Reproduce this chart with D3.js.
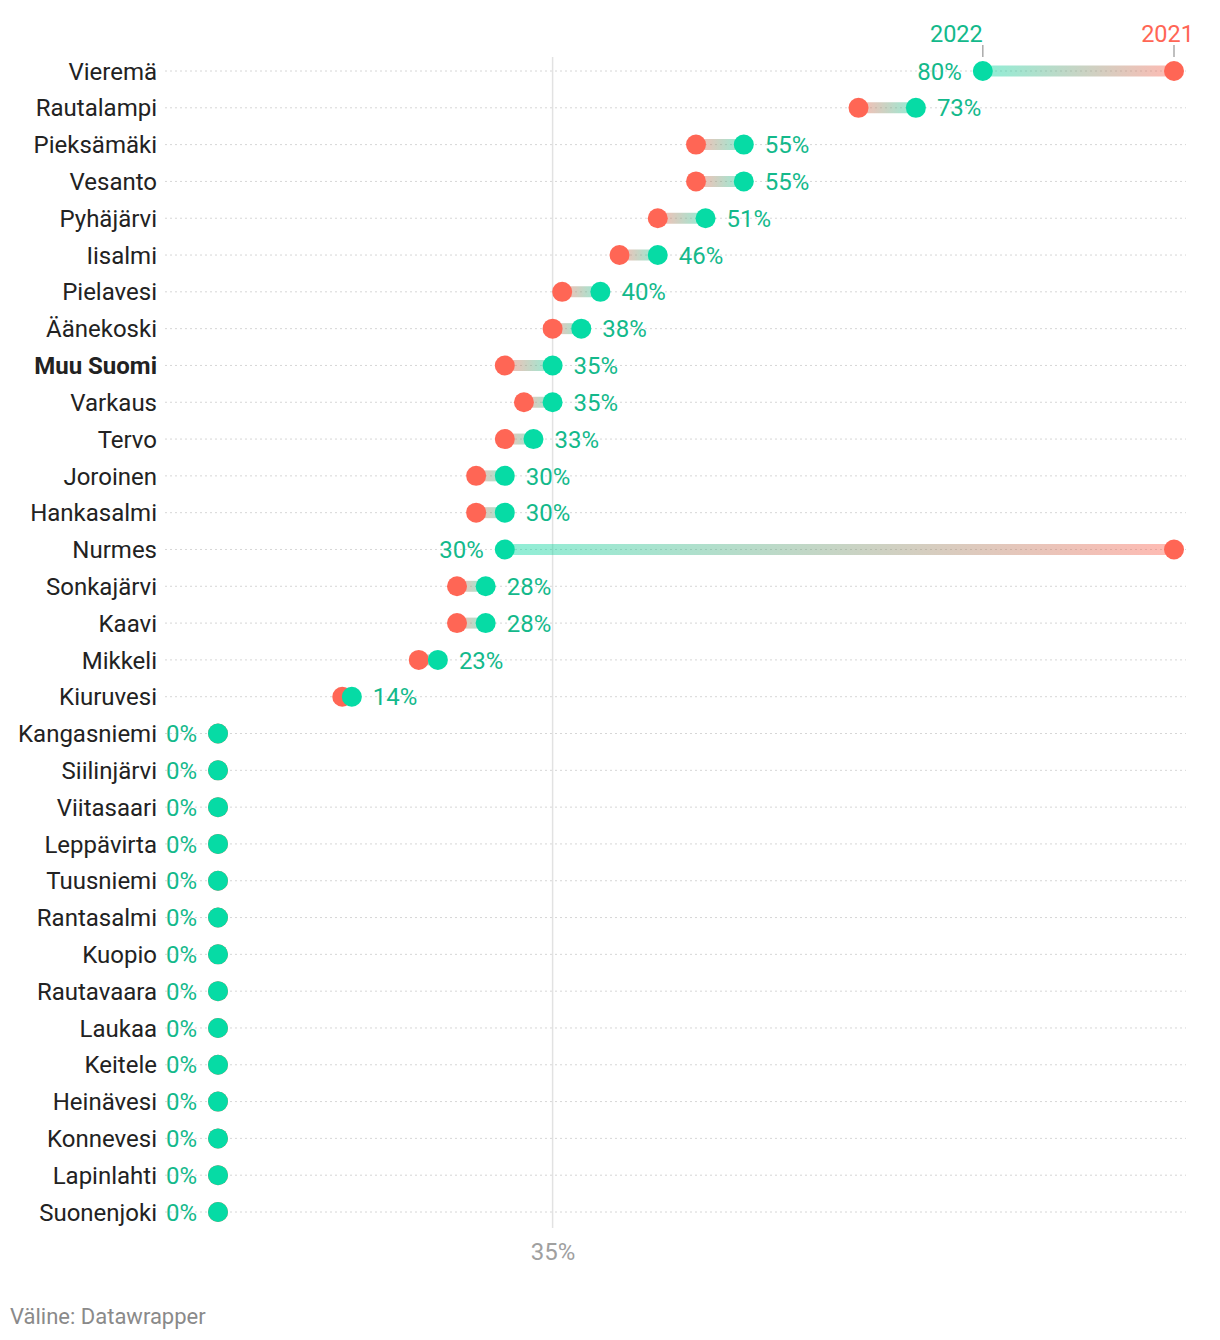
<!DOCTYPE html>
<html><head><meta charset="utf-8">
<script src="https://cdn.jsdelivr.net/npm/d3@7"></script>
<style>
body{margin:0;background:#fff;font-family:Roboto,"Noto Sans",sans-serif;}
</style></head>
<body>
<svg id="chart" width="1220" height="1340"></svg>
<script>
const categories = ["Vieremä","Rautalampi","Pieksämäki","Vesanto","Pyhäjärvi","Iisalmi","Pielavesi","Äänekoski","Muu Suomi","Varkaus","Tervo","Joroinen","Hankasalmi","Nurmes","Sonkajärvi","Kaavi","Mikkeli","Kiuruvesi","Kangasniemi","Siilinjärvi","Viitasaari","Leppävirta","Tuusniemi","Rantasalmi","Kuopio","Rautavaara","Laukaa","Keitele","Heinävesi","Konnevesi","Lapinlahti","Suonenjoki"];
const values2021 = [100,67,50,50,46,42,36,35,30,32,30,27,27,100,25,25,21,13,0,0,0,0,0,0,0,0,0,0,0,0,0,0];
const values2022 = [80,73,55,55,51,46,40,38,35,35,33,30,30,30,28,28,23,14,0,0,0,0,0,0,0,0,0,0,0,0,0,0];
const boldCategories = ["Muu Suomi"];
const xTicks = [35];
const seriesNames = ["2021","2022"];

const c2021 = "#ff6655", c2022 = "#06dba5", t2022 = "#13b98b", t2021 = "#ff6655";
const svg = d3.select("#chart");
const x = d3.scaleLinear().domain([0,100]).range([218,1174]);
const y = d3.scalePoint().domain(categories).range([71,1212]);

// grid lines
svg.append("g").selectAll("line").data(categories).join("line")
  .attr("x1",165).attr("x2",1186).attr("y1",d=>y(d)).attr("y2",d=>y(d))
  .attr("stroke","#d6d6d6").attr("stroke-width",1).attr("stroke-dasharray","2,3");

// x axis tick line
const xAxis = d3.axisBottom(x).tickValues(xTicks).tickFormat(d=>d+"%").tickSize(0);
svg.append("g").selectAll("line.v").data(xTicks).join("line")
  .attr("x1",d=>x(d)).attr("x2",d=>x(d)).attr("y1",57).attr("y2",1228)
  .attr("stroke","#e2e2e2").attr("stroke-width",1.5);
const ax = svg.append("g").attr("transform","translate(0,1240)").call(xAxis);
ax.select(".domain").remove();
ax.selectAll("text").attr("font-family","Roboto").attr("font-size",24).attr("fill","#a0a0a0").attr("dy","0.7em");

const data = categories.map((c,i)=>({c,v1:values2021[i],v2:values2022[i]}));

// gradients
const defs = svg.append("defs");
data.forEach((d,i)=>{
  const g = defs.append("linearGradient").attr("id","g"+i).attr("gradientUnits","userSpaceOnUse")
    .attr("x1",x(d.v1)).attr("x2",x(d.v2)).attr("y1",0).attr("y2",0);
  g.append("stop").attr("offset","0%").attr("stop-color",c2021);
  g.append("stop").attr("offset","100%").attr("stop-color",c2022);
});

const rows = svg.append("g").selectAll("g").data(data).join("g");
rows.filter(d=>d.v1!==d.v2).append("line")
  .attr("x1",d=>x(d.v1)).attr("x2",d=>x(d.v2)).attr("y1",d=>y(d.c)).attr("y2",d=>y(d.c))
  .attr("stroke",d=>"url(#g"+data.indexOf(d)+")").attr("stroke-width",11).attr("stroke-opacity",0.45);
rows.append("circle").attr("cx",d=>x(d.v1)).attr("cy",d=>y(d.c)).attr("r",10).attr("fill",c2021);
rows.append("circle").attr("cx",d=>x(d.v2)).attr("cy",d=>y(d.c)).attr("r",10).attr("fill",c2022);
rows.append("text")
  .attr("x",d=>d.v2>d.v1 ? x(d.v2)+21 : x(d.v2)-21)
  .attr("y",d=>y(d.c)).attr("dy","0.36em")
  .attr("text-anchor",d=>d.v2>d.v1?"start":"end")
  .attr("font-size",24).attr("fill",t2022)
  .text(d=>d.v2+"%");

// category labels
svg.append("g").selectAll("text").data(categories).join("text")
  .attr("x",157).attr("y",d=>y(d)).attr("dy","0.36em").attr("text-anchor","end")
  .attr("font-size",24).attr("fill","#222")
  .attr("font-weight",d=>boldCategories.includes(d)?"bold":"normal")
  .text(d=>d);

// legend on first row
const f = data[0];
[[f.v2,seriesNames[1],t2022,"end",0],[f.v1,seriesNames[0],t2021,"end",20]].forEach(([v,name,col,anc,off])=>{
  svg.append("line").attr("x1",x(v)).attr("x2",x(v)).attr("y1",45).attr("y2",57).attr("stroke","#aaa").attr("stroke-width",1.5);
  svg.append("text").attr("x",x(v)+off).attr("y",42).attr("text-anchor",anc)
    .attr("font-size",23.5).attr("fill",col).text(name);
});

svg.append("text").attr("x",10).attr("y",1324).attr("font-size",22).attr("fill","#8a8a8a").text("Väline: Datawrapper");
</script>
</body></html>
